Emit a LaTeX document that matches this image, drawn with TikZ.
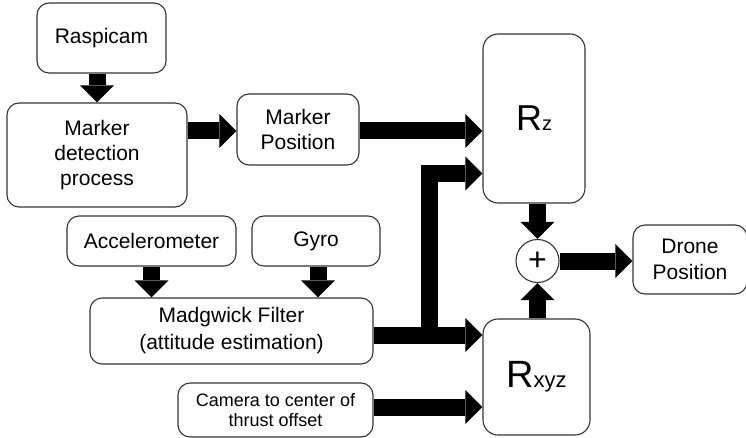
\documentclass[tikz,border=0pt]{standalone}
\usepackage{fontspec}
\setmainfont{Liberation Sans}
\usetikzlibrary{arrows.meta}
\begin{document}
\begin{tikzpicture}[x=1pt,y=-1pt,
  box/.style={draw=black!80, line width=1.1pt, rounded corners=12pt, fill=white,
    align=center, inner sep=0pt, font=\fontsize{21}{25}\selectfont},
  fat/.style={line width=17pt, line join=miter,
    -{Triangle[line width=0pt, width=34pt, length=17pt]}}]
\useasboundingbox (0,0) rectangle (746,438);
\node[box, minimum width=129, minimum height=70] (rasp) at (101.5,38) {Raspicam};
\node[box, minimum width=180, minimum height=104] (mdet) at (97,155) {Marker\\detection\\process};
\node[box, minimum width=122, minimum height=71] (mpos) at (298,129.5) {Marker\\Position};
\node[box, minimum width=102, minimum height=169, rounded corners=15pt] (rz) at (534,118.5)
  {{\fontsize{36}{36}\selectfont R}{\fontsize{20}{20}\selectfont z}};
\node[box, minimum width=169, minimum height=50] (acc) at (151.5,241) {Accelerometer};
\node[box, minimum width=128, minimum height=50] (gyro) at (316,241) {Gyro};
\node[box, minimum width=283, minimum height=66, font=\fontsize{21}{27}\selectfont] (madg) at (231.5,331) {Madgwick Filter\\(attitude estimation)};
\node[box, minimum width=195, minimum height=54, font=\fontsize{18}{20}\selectfont] (cam) at (275.5,410) {Camera to center of\\thrust offset};
\node[draw=black!80, line width=1.1pt, circle, minimum size=43, inner sep=0pt, fill=white,
  font=\fontsize{32}{32}\selectfont] (plus) at (537.5,261) {+};
\node[box, minimum width=114, minimum height=69, font=\fontsize{21}{26}\selectfont] (drone) at (690,259.5) {Drone\\Position};
\node[box, minimum width=107, minimum height=116, rounded corners=15pt] (rxyz) at (536.5,377)
  {{\fontsize{38}{38}\selectfont R}{\fontsize{22}{22}\selectfont xyz}};
\coordinate (j) at (429,335);
\coordinate (k) at (429,173.5);
\draw[fat] (rasp.south -| mdet.north) -- (mdet.north);
\draw[fat] ([yshift=-1.5pt]mdet.east |- mpos.west) -- ([yshift=-1.5pt]mpos.west);
\draw[fat] ([yshift=-1.5pt]mpos.east) -- ([yshift=-1.5pt]mpos.east -| rz.west);
\draw[fat] (acc.south) -- (acc.south |- madg.north);
\draw[fat] ([xshift=2pt]gyro.south) -- ([xshift=2pt]gyro.south |- madg.north);
\draw[fat] (madg.east |- j) -- (j -| rxyz.west);
\draw[fat] (j) -- (k) -- (k -| rz.west);
\draw[fat] ([yshift=3pt]cam.east) -- ([yshift=3pt]cam.east -| rxyz.west);
\draw[fat] (rz.south -| plus.north) -- (plus.north);
\draw[fat] (rxyz.north -| plus.south) -- (plus.south);
\draw[fat] (plus.east) -- (plus.east -| drone.west);
\end{tikzpicture}
\end{document}
